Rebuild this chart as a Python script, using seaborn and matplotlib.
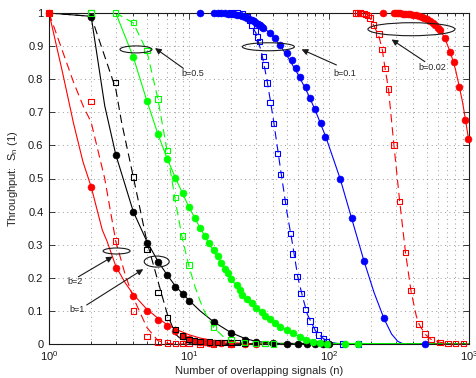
import matplotlib
matplotlib.use("Agg")
import matplotlib.pyplot as plt
import seaborn as sns
from matplotlib.patches import Ellipse
from matplotlib.ticker import FixedLocator, LogLocator, NullFormatter

# ---------------- data ----------------
# b = 2 (red): analytic curves and simulated points
b2_line_n = [1, 1.25, 1.5, 1.75, 2, 2.4, 2.6, 3, 3.5, 4, 5, 6, 7, 8, 10, 12, 15, 20, 25, 30, 1000]
b2_line_s = [1.0, 0.82, 0.665, 0.55, 0.475, 0.345, 0.31, 0.235, 0.185, 0.15, 0.105, 0.078, 0.058,
             0.045, 0.028, 0.018, 0.01, 0.004, 0.002, 0.001, 0.0]
b2_dash_n = [1, 1.5, 1.75, 2, 2.5, 3, 3.5, 4, 5, 6, 7, 8, 1000]
b2_dash_s = [1.0, 0.79, 0.72, 0.67, 0.5, 0.31, 0.21, 0.14, 0.05, 0.01, 0.002, 0.0, 0.0]
b2_circ_n = [1, 2, 3, 4, 5, 6, 7, 8, 9, 10, 11, 12, 13, 14, 15, 17, 20, 25, 30]
b2_circ_s = [1.0, 0.475, 0.23, 0.146, 0.10, 0.072, 0.054, 0.038, 0.025, 0.016, 0.008, 0.006, 0.005,
             0.004, 0.003, 0.002, 0.001, 0.001, 0.0]
b2_sq_n = [1, 2, 3, 4, 5, 6, 7, 8, 9, 10, 12, 15, 20]
b2_sq_s = [1.0, 0.732, 0.311, 0.10, 0.022, 0.006, 0.003, 0.002, 0.001, 0.001, 0.0, 0.0, 0.0]

# b = 1 (black)
b1_line_n = [1, 2, 2.5, 3, 4, 5, 6, 7, 8, 9, 10, 12, 15, 20, 25, 30, 40, 1000]
b1_line_s = [1.0, 0.99, 0.72, 0.572, 0.40, 0.31, 0.25, 0.208, 0.175, 0.152, 0.132, 0.1, 0.067,
             0.034, 0.017, 0.008, 0.002, 0.0]
b1_dash_n = [1, 2, 3, 3.3, 4, 5, 6, 7, 8, 9, 10, 12, 1000]
b1_dash_s = [1.0, 0.99, 0.77, 0.67, 0.505, 0.31, 0.19, 0.09, 0.03, 0.01, 0.003, 0.0, 0.0]
b1_circ_n = [2, 3, 4, 5, 6, 7, 8, 9, 10, 15, 20, 25, 30, 40, 50, 60, 70, 80, 90, 100]
b1_circ_s = [0.987, 0.572, 0.40, 0.306, 0.249, 0.208, 0.173, 0.15, 0.13, 0.067, 0.034, 0.013,
             0.006, 0.002, 0.001, 0.0, 0.0, 0.0, 0.0, 0.0]
b1_sq_n = [2, 3, 4, 5, 6, 7, 8, 9, 10, 11, 12, 14, 16, 18, 20, 22, 25, 30, 35, 40]
b1_sq_s = [1.0, 0.79, 0.505, 0.286, 0.155, 0.08, 0.044, 0.024, 0.014, 0.009, 0.007, 0.006, 0.005,
           0.005, 0.004, 0.004, 0.003, 0.002, 0.001, 0.001]

# b = 0.5 (green)
b05_line_n = [1, 3, 4, 5, 6, 7, 8, 10, 12, 15, 20, 25, 30, 40, 50, 60, 70, 80, 100, 1000]
b05_line_s = [1.0, 1.0, 0.867, 0.735, 0.634, 0.559, 0.502, 0.413, 0.351, 0.28, 0.197, 0.14, 0.11,
              0.066, 0.042, 0.025, 0.014, 0.008, 0.002, 0.0]
b05_dash_n = [1, 3, 4, 5, 6, 7, 8, 9, 10, 11, 12, 13, 15, 18, 20, 25, 30, 1000]
b05_dash_s = [1.0, 1.0, 0.97, 0.885, 0.74, 0.58, 0.43, 0.315, 0.235, 0.175, 0.13, 0.095, 0.05,
              0.018, 0.01, 0.002, 0.0, 0.0]
b05_circ_n = [4, 5, 6, 7, 8, 9, 10, 11, 12, 13, 14, 15, 16, 17, 18, 19, 20, 22, 23, 24, 26, 28,
              30, 33, 35, 38, 41, 45, 50, 55, 62, 69, 77, 86, 96, 130, 160]
b05_circ_s = [0.867, 0.735, 0.634, 0.559, 0.502, 0.455, 0.413, 0.38, 0.351, 0.326, 0.304, 0.285,
              0.266, 0.246, 0.228, 0.214, 0.197, 0.177, 0.163, 0.148, 0.135, 0.123, 0.11, 0.098,
              0.085, 0.075, 0.063, 0.052, 0.042, 0.032, 0.022, 0.013, 0.007, 0.003, 0.001, 0.0, 0.0]
b05_sq_n = [2, 3, 4, 5, 6, 7, 8, 9, 10, 15, 20, 25, 30, 35, 40]
b05_sq_s = [1.0, 1.0, 0.972, 0.886, 0.74, 0.584, 0.442, 0.326, 0.239, 0.05, 0.014, 0.005, 0.002,
            0.001, 0.0]

# b = 0.1 (blue)
b01_line_n = [1, 12, 20, 25, 30, 35, 40, 45, 50, 60, 70, 80, 95, 120, 145, 178, 210, 248, 280,
              310, 340, 1000]
b01_line_s = [1.0, 1.0, 0.999, 0.993, 0.975, 0.952, 0.928, 0.9, 0.872, 0.815, 0.76, 0.705, 0.625,
              0.5, 0.38, 0.25, 0.155, 0.075, 0.03, 0.008, 0.0, 0.0]
b01_dash_n = [1, 20, 24, 27, 30, 33, 36, 40, 45, 50, 55, 60, 65, 70, 80, 90, 100, 120, 1000]
b01_dash_s = [1.0, 1.0, 0.995, 0.975, 0.94, 0.88, 0.8, 0.68, 0.53, 0.4, 0.3, 0.2, 0.14, 0.09,
              0.04, 0.018, 0.006, 0.0, 0.0]
b01_circ_n = [12, 15, 16, 17, 18, 19, 20, 21, 22, 23, 24, 25, 26, 27, 28, 29, 30, 31, 32, 33, 34,
              38, 41, 45, 50, 54, 58, 62, 68, 73, 79, 87, 94, 119, 145, 178, 248, 484]
b01_circ_s = [1.0, 1.0, 1.0, 1.0, 0.999, 0.998, 0.997, 0.996, 0.995, 0.993, 0.991, 0.989, 0.986,
              0.983, 0.979, 0.975, 0.971, 0.967, 0.963, 0.958, 0.954, 0.939, 0.924, 0.903, 0.878,
              0.858, 0.833, 0.808, 0.777, 0.744, 0.709, 0.667, 0.626, 0.50, 0.38, 0.251, 0.078, 0.0]
b01_sq_n = [20, 22, 24, 26, 27, 28, 30, 31, 32, 34, 35, 36, 38, 40, 43, 45, 48, 53, 55, 59, 63,
            68, 73, 79, 84, 91, 96, 126, 162]
b01_sq_s = [1.0, 1.0, 0.998, 0.99, 0.978, 0.962, 0.946, 0.928, 0.913, 0.868, 0.843, 0.788, 0.73,
            0.667, 0.576, 0.513, 0.43, 0.334, 0.272, 0.203, 0.153, 0.105, 0.07, 0.044, 0.027,
            0.017, 0.007, 0.0, 0.0]

# b = 0.02 (red)
b002_line_n = [1, 250, 300, 400, 500, 550, 600, 650, 700, 750, 800, 850, 900, 950, 1000]
b002_line_s = [1.0, 1.0, 0.999, 0.994, 0.982, 0.972, 0.958, 0.935, 0.905, 0.87, 0.83, 0.78, 0.73,
               0.67, 0.61]
b002_dash_n = [1, 170, 190, 207, 227, 240, 251, 266, 291, 320, 352, 385, 420, 440, 484, 535, 621,
               710, 800, 1000]
b002_dash_s = [1.0, 1.0, 0.995, 0.966, 0.93, 0.89, 0.835, 0.77, 0.6, 0.43, 0.276, 0.161, 0.085,
               0.06, 0.03, 0.014, 0.005, 0.002, 0.0, 0.0]
b002_circ_n = [243, 290, 300, 310, 320, 335, 350, 365, 380, 400, 420, 440, 460, 480, 500, 525, 550,
               575, 600, 621, 675, 728, 780, 852, 943, 980]
b002_circ_s = [1.0, 1.0, 1.0, 0.999, 0.999, 0.998, 0.998, 0.997, 0.996, 0.995, 0.993, 0.991, 0.988,
               0.985, 0.981, 0.976, 0.97, 0.963, 0.956, 0.949, 0.924, 0.883, 0.851, 0.775, 0.677,
               0.618]
b002_sq_n = [155, 160, 166, 172, 178, 184, 190, 196, 207, 227, 239, 251, 266, 291, 320, 352, 385,
             440, 484, 535, 621, 710, 800, 910]
b002_sq_s = [1.0, 1.0, 1.0, 0.999, 0.998, 0.996, 0.992, 0.985, 0.964, 0.936, 0.89, 0.833, 0.77,
             0.601, 0.43, 0.276, 0.161, 0.06, 0.03, 0.014, 0.005, 0.002, 0.001, 0.001]

y_ticks = [0, 0.1, 0.2, 0.3, 0.4, 0.5, 0.6, 0.7, 0.8, 0.9, 1.0]
y_tick_labels = ["0", "0.1", "0.2", "0.3", "0.4", "0.5", "0.6", "0.7", "0.8", "0.9", "1"]

# annotation labels: text, ellipse centre (n, S), text position (n, S), arrow tail, arrow head
ann_labels = ["b=2", "b=1", "b=0.5", "b=0.1", "b=0.02"]
ann_ellipse_xy = [(3.04, 0.281), (5.88, 0.249), (4.18, 0.89), (36.9, 0.898), (388, 0.951)]
ann_text_xy = [(1.53, 0.188), (1.58, 0.103), (10.7, 0.818), (130, 0.818), (544, 0.834)]
ann_tail_xy = [(1.62, 0.203), (1.86, 0.118), (9.1, 0.833), (113, 0.843), (484, 0.853)]
ann_head_xy = [(2.85, 0.264), (4.71, 0.226), (5.72, 0.894), (63.7, 0.89), (280, 0.92)]

# ---------------- style ----------------
sns.set_theme(style="ticks")
plt.rcParams["font.family"] = ["Liberation Sans", "DejaVu Sans"]
plt.rcParams["mathtext.fontset"] = "custom"
plt.rcParams["mathtext.rm"] = "Liberation Sans"
plt.rcParams["mathtext.it"] = "Liberation Sans:italic"
plt.rcParams["lines.scale_dashes"] = False

RED, BLACK, GREEN, BLUE = (1, 0, 0), (0, 0, 0), (0, 1, 0), (0, 0, 1)
DASH = (0, (6, 3.5))

fig = plt.figure(figsize=(4.77, 3.78), dpi=100)
ax = fig.add_axes([49 / 477, 34 / 378, 420 / 477, 331 / 378])
ax.set_xscale("log")
ax.set_xlim(1, 1000)
ax.set_ylim(0, 1)


def curve(n, s, color, ls):
    sns.lineplot(x=n, y=s, ax=ax, color=color, linestyle=ls, lw=0.8,
                 estimator=None, sort=False, zorder=2)


def circles(n, s, color):
    sns.scatterplot(x=n, y=s, ax=ax, marker="o", s=25, color=color, edgecolor=color,
                    linewidth=0.4, zorder=3, clip_on=False)


def squares(n, s, color):
    sns.scatterplot(x=n, y=s, ax=ax, marker="s", s=15, color=color, facecolor="none",
                    edgecolor=color, linewidth=0.8, zorder=3, clip_on=False)


# lines
for ln, ls_, dn, ds, c in [
    (b002_line_n, b002_line_s, b002_dash_n, b002_dash_s, RED),
    (b01_line_n, b01_line_s, b01_dash_n, b01_dash_s, BLUE),
    (b2_line_n, b2_line_s, b2_dash_n, b2_dash_s, RED),
    (b1_line_n, b1_line_s, b1_dash_n, b1_dash_s, BLACK),
    (b05_line_n, b05_line_s, b05_dash_n, b05_dash_s, GREEN),
]:
    curve(ln, ls_, c, "-")
    curve(dn, ds, c, DASH)

# simulated points
for cn, cs, sn, ss, c in [
    (b002_circ_n, b002_circ_s, b002_sq_n, b002_sq_s, RED),
    (b01_circ_n, b01_circ_s, b01_sq_n, b01_sq_s, BLUE),
    (b2_circ_n, b2_circ_s, b2_sq_n, b2_sq_s, RED),
    (b1_circ_n, b1_circ_s, b1_sq_n, b1_sq_s, BLACK),
    (b05_circ_n, b05_circ_s, b05_sq_n, b05_sq_s, GREEN),
]:
    circles(cn, cs, c)
    squares(sn, ss, c)

# axes, ticks and grid
ax.xaxis.set_major_locator(LogLocator(base=10, numticks=10))
ax.xaxis.set_minor_locator(LogLocator(base=10, subs=range(2, 10), numticks=100))
ax.xaxis.set_minor_formatter(NullFormatter())
ax.yaxis.set_major_locator(FixedLocator(y_ticks))
ax.set_yticklabels(y_tick_labels)
ax.tick_params(which="both", direction="in", top=True, right=True, width=0.6,
               labelsize=8, colors="k", pad=4)
ax.tick_params(which="major", length=4)
ax.tick_params(which="minor", length=2)
grid_style = dict(linestyle=(0, (0.7, 2.5)), color="0.45", lw=0.5)
ax.xaxis.grid(True, which="both", **grid_style)
ax.yaxis.grid(True, which="major", **grid_style)
ax.set_axisbelow(True)
for sp in ax.spines.values():
    sp.set_visible(True)
    sp.set_color("k")
    sp.set_linewidth(0.8)

ax.set_xlabel("Number of overlapping signals (n)", fontsize=8, labelpad=2)
ax.set_ylabel(r"Throughput:  S$_{\mathrm{n}}$ (1)", fontsize=8, labelpad=6)

# ellipses, arrows and labels marking each b
ell_size_px = [(27, 6), (25, 11), (32, 7), (52, 8), (87, 13)]
to_axes = ax.transAxes.inverted()
for lab, exy, txy, tail, head, (w, h) in zip(ann_labels, ann_ellipse_xy, ann_text_xy,
                                             ann_tail_xy, ann_head_xy, ell_size_px):
    cx, cy = to_axes.transform(ax.transData.transform(exy))
    ax.add_patch(Ellipse((cx, cy), w / 420, h / 331, transform=ax.transAxes, fill=False,
                         ec="k", lw=0.8, zorder=5, clip_on=False))
    ax.annotate("", xy=head, xytext=tail,
                arrowprops=dict(arrowstyle="-|>", color="k", lw=0.8, mutation_scale=9,
                                shrinkA=0, shrinkB=0), zorder=5)
    ax.text(txy[0], txy[1], lab, fontsize=6.5, ha="center", va="center", color="0.15", zorder=5)

fig.savefig("out.png", dpi=100)
